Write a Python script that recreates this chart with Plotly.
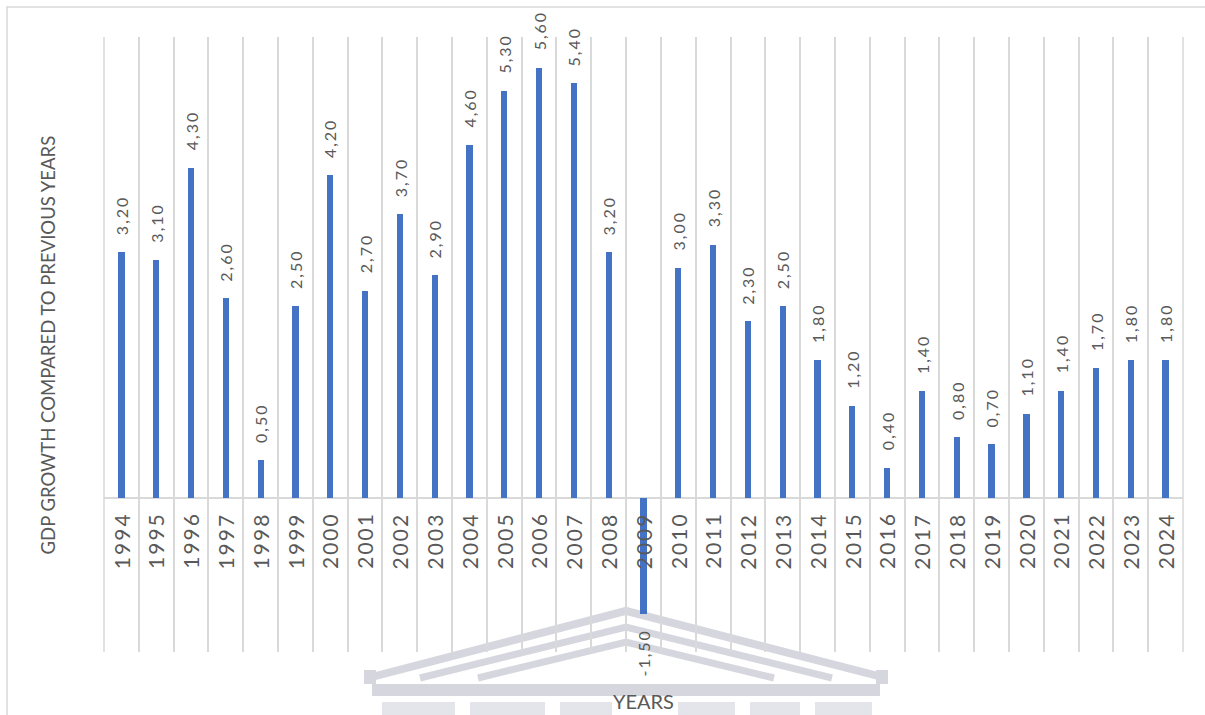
import plotly.graph_objects as go

# GDP growth (%) compared to the previous year
years = [str(y) for y in range(1994, 2025)]
growth = [3.2, 3.1, 4.3, 2.6, 0.5, 2.5, 4.2, 2.7, 3.7, 2.9, 4.6, 5.3, 5.6, 5.4, 3.2,
          -1.5, 3.0, 3.3, 2.3, 2.5, 1.8, 1.2, 0.4, 1.4, 0.8, 0.7, 1.1, 1.4, 1.7, 1.8, 1.8]

W, H = 1205, 715
L, R, T, B = 104, 22, 37, 63
PW, PH = W - L - R, H - T - B

FONT = "Lato"
GREY = "#595959"
BAR = "#4472C4"
GRID = "#d9d9d9"


def px(x):
    return (x - L) / PW


def py(y):
    return (H - B - y) / PH


def fmt(v):
    return f"{v:.2f}".replace(".", ",")


fig = go.Figure()
fig.add_trace(go.Bar(
    x=years, y=growth, marker=dict(color=BAR, line=dict(width=0)),
    width=0.18, hoverinfo="x+y",
))

annotations = []
for i, (yr, v) in enumerate(zip(years, growth)):
    # value label beyond the end of each bar
    annotations.append(dict(
        x=i, y=v, xref="x", yref="y", showarrow=False, textangle=-90,
        text=f'<span style="letter-spacing:2px">{fmt(v)}</span>',
        font=dict(family=FONT, size=16, color=GREY),
        yanchor="bottom" if v >= 0 else "top",
        yshift=15 if v >= 0 else -14,
    ))
    # category label hanging under the zero line
    annotations.append(dict(
        x=i, y=0, xref="x", yref="y", showarrow=False, textangle=-90,
        text=f'<span style="letter-spacing:2px">{yr}</span>',
        font=dict(family=FONT, size=21, color=GREY),
        yanchor="top", yshift=-12,
    ))

annotations.append(dict(
    x=-0.052, y=0.5, xref="paper", yref="paper", showarrow=False, textangle=-90,
    text="GDP GROWTH COMPARED TO PREVIOUS YEARS",
    font=dict(family=FONT, size=18.5, color=GREY), xanchor="center", yanchor="middle",
))
annotations.append(dict(
    x=0.5, y=py(701), xref="paper", yref="paper", showarrow=False,
    text="YEARS", font=dict(family=FONT, size=20, color=GREY),
    xanchor="center", yanchor="middle",
))

WM = "#d6d6df"
WM_LIGHT = "#e4e4eb"
shapes = [
    # outer chart border
    dict(type="rect", xref="paper", yref="paper", x0=px(7), y0=py(7), x1=px(1230), y1=py(740),
         line=dict(color=GRID, width=1.5), layer="below"),
    # category separators at the plot edges
    dict(type="line", xref="paper", yref="paper", x0=0, x1=0, y0=0, y1=1,
         line=dict(color=GRID, width=1.5), layer="below"),
    dict(type="line", xref="paper", yref="paper", x0=1, x1=1, y0=0, y1=1,
         line=dict(color=GRID, width=1.5), layer="below"),
]


def chevron(x0, y0, xa, ya, x1, y1, w=7):
    return dict(type="path", xref="paper", yref="paper",
                path=f"M{px(x0)},{py(y0)} L{px(xa)},{py(ya)} L{px(x1)},{py(y1)}",
                line=dict(color=WM, width=w), layer="below")


def block(x0, y0, x1, y1, color=WM):
    return dict(type="rect", xref="paper", yref="paper", x0=px(x0), y0=py(y0),
                x1=px(x1), y1=py(y1), line=dict(width=0), fillcolor=color, layer="below")


# faint pediment emblem behind the lower axis area
shapes += [
    chevron(368, 678, 626, 611, 886, 678, 8),
    chevron(420, 678, 626, 627, 832, 678),
    chevron(478, 678, 626, 642, 774, 678),
    block(364, 670, 376, 684),
    block(876, 670, 888, 684),
    block(372, 684, 880, 696),
]
# column stubs along the lower edge
for cx0, cx1 in [(382, 455), (470, 545), (560, 612), (678, 735), (750, 800), (815, 872)]:
    shapes.append(block(cx0, 702, cx1, 720, WM_LIGHT))

fig.update_layout(
    width=W, height=H,
    margin=dict(l=L, r=R, t=T, b=B),
    paper_bgcolor="white", plot_bgcolor="rgba(0,0,0,0)",
    showlegend=False, bargap=0,
    annotations=annotations, shapes=shapes,
    xaxis=dict(type="category", tickson="boundaries", showgrid=True,
               gridcolor=GRID, gridwidth=1.5, showticklabels=False,
               ticks="", showline=False, zeroline=False, range=[-0.5, 30.5]),
    yaxis=dict(range=[-2, 6], showgrid=False, showticklabels=False, ticks="",
               zeroline=True, zerolinecolor=GRID, zerolinewidth=1.5, showline=False),
)

fig.write_html("out.html")
